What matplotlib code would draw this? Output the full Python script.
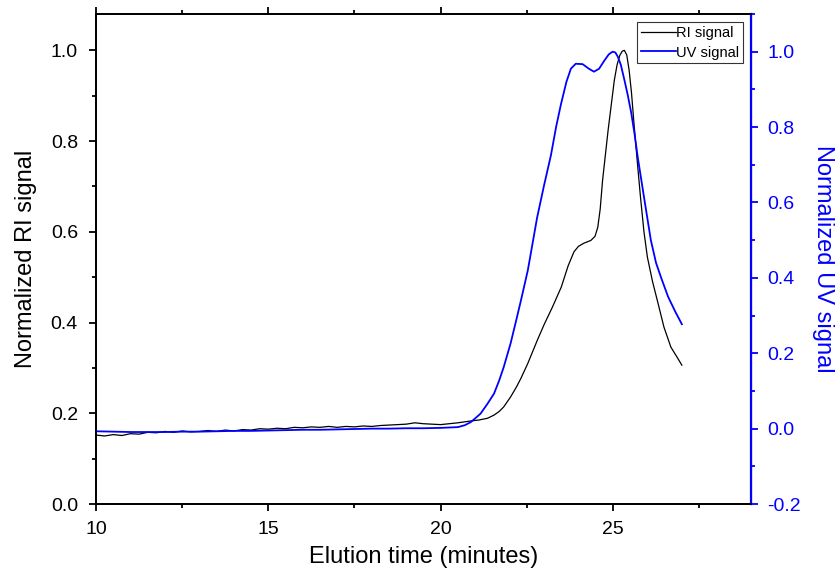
"""
Normalized RI and UV chromatogram traces (recreated from the figure).
"""

import matplotlib
matplotlib.use("Agg")
import matplotlib.pyplot as plt
from matplotlib.ticker import MultipleLocator

plt.rcParams.update({
    "font.family": ["Liberation Sans", "DejaVu Sans"],
    "font.size": 14,
})

# ---- data ----
ri_time = [10.0, 10.25, 10.5, 10.75, 11.0, 11.25, 11.5, 11.75, 12.0, 12.25,
           12.5, 12.75, 13.0, 13.25, 13.5, 13.75, 14.0, 14.25, 14.5, 14.75,
           15.0, 15.25, 15.5, 15.75, 16.0, 16.25, 16.5, 16.75, 17.0, 17.25,
           17.5, 17.75, 18.0, 18.25, 18.5, 18.75, 19.0, 19.25, 19.5, 19.75,
           20.0, 20.25, 20.5, 20.87, 21.1, 21.36, 21.55, 21.7, 21.83, 22.03,
           22.2, 22.33, 22.53, 22.8, 23.0, 23.25, 23.5, 23.7, 23.87, 24.0,
           24.16, 24.36, 24.48, 24.56, 24.63, 24.7, 24.86, 25.04, 25.12, 25.2,
           25.27, 25.33, 25.4, 25.47, 25.54, 25.61, 25.7, 25.8, 25.9, 26.0,
           26.15, 26.3, 26.48, 26.68, 26.85, 27.0]
ri_signal = [0.152, 0.150, 0.153, 0.151, 0.155, 0.154, 0.158, 0.157, 0.160, 0.158,
             0.161, 0.159, 0.160, 0.162, 0.160, 0.163, 0.161, 0.164, 0.163, 0.166,
             0.165, 0.167, 0.166, 0.169, 0.168, 0.170, 0.169, 0.171, 0.169, 0.171,
             0.170, 0.172, 0.171, 0.173, 0.174, 0.175, 0.176, 0.179, 0.177, 0.176,
             0.175, 0.177, 0.179, 0.183, 0.185, 0.189, 0.196, 0.204, 0.214, 0.236,
             0.258, 0.277, 0.310, 0.360, 0.395, 0.435, 0.478, 0.525, 0.556, 0.568,
             0.575, 0.581, 0.590, 0.610, 0.650, 0.714, 0.824, 0.934, 0.968, 0.989,
             0.998, 1.000, 0.990, 0.956, 0.905, 0.839, 0.760, 0.676, 0.600, 0.544,
             0.490, 0.445, 0.390, 0.346, 0.325, 0.306]

uv_time = [10.0, 10.5, 11.0, 11.5, 12.0, 12.5, 13.0, 13.5, 14.0, 14.5,
           15.0, 15.5, 16.0, 16.5, 17.0, 17.5, 18.0, 18.5, 19.0, 19.5,
           20.0, 20.5, 20.7, 20.87, 21.0, 21.16, 21.36, 21.55, 21.7, 21.83,
           22.03, 22.2, 22.33, 22.53, 22.8, 23.0, 23.2, 23.35, 23.49, 23.65,
           23.78, 23.92, 24.12, 24.3, 24.45, 24.6, 24.74, 24.88, 24.99, 25.07,
           25.14, 25.23, 25.33, 25.43, 25.53, 25.63, 25.72, 25.9, 26.1, 26.25,
           26.4, 26.6, 26.8, 27.0]
uv_signal = [-0.007, -0.008, -0.009, -0.009, -0.009, -0.008, -0.008, -0.007, -0.006, -0.006,
             -0.005, -0.004, -0.003, -0.003, -0.002, -0.001, 0.000, 0.000, 0.001, 0.001,
             0.002, 0.004, 0.009, 0.017, 0.027, 0.040, 0.066, 0.093, 0.128, 0.163,
             0.226, 0.290, 0.340, 0.420, 0.560, 0.645, 0.725, 0.800, 0.860, 0.920,
             0.955, 0.968, 0.967, 0.955, 0.947, 0.955, 0.975, 0.993, 1.000, 0.998,
             0.987, 0.965, 0.926, 0.885, 0.838, 0.780, 0.720, 0.615, 0.500, 0.440,
             0.400, 0.350, 0.312, 0.277]

fig = plt.figure(figsize=(8.37, 5.79), dpi=100)
ax = fig.add_axes([0.1147, 0.1295, 0.7823, 0.8463])
ax2 = ax.twinx()

ri_line, = ax.plot(ri_time, ri_signal, color="black", linewidth=0.9, label="RI signal")
uv_line, = ax2.plot(uv_time, uv_signal, color="#0000ff", linewidth=1.3, label="UV signal")

ax.set_xlim(10, 29)
ax.set_ylim(0, 1.08)
ax2.set_ylim(-0.2, 1.1)

ax.xaxis.set_major_locator(MultipleLocator(5))
ax.xaxis.set_minor_locator(MultipleLocator(2.5))
ax.yaxis.set_major_locator(MultipleLocator(0.2))
ax.yaxis.set_minor_locator(MultipleLocator(0.1))
ax2.yaxis.set_major_locator(MultipleLocator(0.2))
ax2.yaxis.set_minor_locator(MultipleLocator(0.1))
ax.yaxis.set_major_formatter(lambda v, p: f"{v:.1f}")
ax2.yaxis.set_major_formatter(lambda v, p: f"{v:.1f}")

ax.tick_params(which="both", direction="out", width=1.3, labelsize=14, top=True)
ax.tick_params(which="major", length=5)
ax.tick_params(which="minor", length=3)
ax.tick_params(axis="y", pad=8)
ax.tick_params(axis="x", pad=7)
ax2.tick_params(which="both", direction="out", width=1.3, labelsize=14,
                colors="#0000ff", pad=7)
ax2.tick_params(which="major", length=5)
ax2.tick_params(which="minor", length=3)

for side in ["left", "bottom", "top"]:
    ax.spines[side].set_linewidth(1.3)
    ax2.spines[side].set_linewidth(1.3)
ax2.spines["right"].set_color("#0000ff")
ax2.spines["right"].set_linewidth(1.6)

ax.set_xlabel("Elution time (minutes)", fontsize=17, labelpad=6)
ax.set_ylabel("Normalized RI signal", fontsize=17, labelpad=10)
ax2.set_ylabel("Normalized UV signal", fontsize=17, color="#0000ff",
               rotation=270, labelpad=24)

leg = ax.legend(handles=[ri_line, uv_line], loc="upper right", fontsize=10.5,
                frameon=True, fancybox=False, edgecolor="black",
                handlelength=2.4, handletextpad=0.0, borderpad=0.25,
                labelspacing=0.4, borderaxespad=0.55)
leg.get_frame().set_linewidth(0.8)

fig.savefig("out.png", dpi=100)
